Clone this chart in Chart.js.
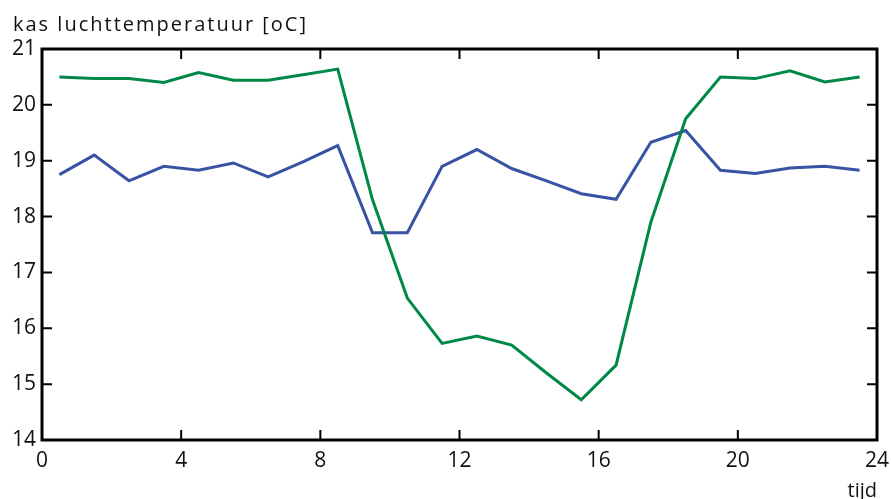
<!DOCTYPE html>
<html>
<head>
<meta charset="utf-8">
<script src="https://cdn.jsdelivr.net/npm/chart.js@4/dist/chart.umd.min.js"></script>
<style>
  html, body { margin: 0; padding: 0; background: #fff; }
  #wrap { width: 891px; height: 499px; position: relative; }
</style>
</head>
<body>
<div id="wrap"><canvas id="myChart" width="891" height="499"></canvas></div>
<script>
// data (hours at half-hour marks)
var uren = [0.5, 1.5, 2.5, 3.5, 4.5, 5.5, 6.5, 7.5, 8.5, 9.5, 10.5, 11.5,
            12.5, 13.5, 14.5, 15.5, 16.5, 17.5, 18.5, 19.5, 20.5, 21.5, 22.5, 23.5];
var tempBlauw = [18.75, 19.1, 18.64, 18.9, 18.83, 18.96, 18.71, 18.98, 19.27, 17.71, 17.71, 18.9,
                 19.2, 18.86, 18.64, 18.41, 18.31, 19.33, 19.54, 18.83, 18.77, 18.87, 18.9, 18.83];
var tempGroen = [20.5, 20.47, 20.47, 20.4, 20.58, 20.44, 20.44, 20.54, 20.64, 18.3, 16.54, 15.73,
                 15.86, 15.7, 15.2, 14.72, 15.34, 17.9, 19.75, 20.5, 20.47, 20.61, 20.41, 20.5];
var xTicks = [0, 4, 8, 12, 16, 20, 24];
var yTicks = [14, 15, 16, 17, 18, 19, 20, 21];
var titel = 'kas luchttemperatuur [oC]';
var xTitel = 'tijd';

function punten(arr){
  return uren.map(function(u, i){ return {x: u, y: arr[i]}; });
}

var fontNaam = '"Open Sans", "DejaVu Sans", sans-serif';

// box, inward ticks and texts
var kader = {
  id: 'kader',
  afterDraw: function(chart){
    var ctx = chart.ctx;
    var a = chart.chartArea;
    var xs = chart.scales.x, ys = chart.scales.y;
    ctx.save();
    ctx.strokeStyle = '#000';
    ctx.lineWidth = 2;
    ctx.beginPath();
    xTicks.forEach(function(t){
      var px = xs.getPixelForValue(t);
      ctx.moveTo(px, a.bottom); ctx.lineTo(px, a.bottom - 10);
      ctx.moveTo(px, a.top); ctx.lineTo(px, a.top + 10);
    });
    yTicks.forEach(function(t){
      var py = ys.getPixelForValue(t);
      ctx.moveTo(a.left, py); ctx.lineTo(a.left + 10, py);
      ctx.moveTo(a.right, py); ctx.lineTo(a.right - 10, py);
    });
    ctx.stroke();
    ctx.lineWidth = 3;
    ctx.strokeRect(a.left, a.top, a.right - a.left, a.bottom - a.top);
    ctx.fillStyle = '#111';
    ctx.font = '20px ' + fontNaam;
    ctx.textAlign = 'left';
    ctx.textBaseline = 'alphabetic';
    ctx.letterSpacing = '2px';
    ctx.fillText(titel, 13, 31);
    ctx.letterSpacing = '0px';
    ctx.textAlign = 'right';
    ctx.fillText(xTitel, a.right, 497);
    ctx.restore();
  }
};

var ctx = document.getElementById('myChart');
var chart = new Chart(ctx, {
  type: 'line',
  data: {
    datasets: [
      {
        label: 'groen',
        data: punten(tempGroen),
        borderColor: 'rgb(0, 137, 70)',
        borderWidth: 3,
        pointRadius: 0,
        tension: 0
      },
      {
        label: 'blauw',
        data: punten(tempBlauw),
        borderColor: 'rgb(57, 83, 164)',
        borderWidth: 3,
        pointRadius: 0,
        tension: 0
      }
    ]
  },
  options: {
    responsive: false,
    animation: false,
    events: [],
    layout: { padding: { top: 49, right: 14, left: 0, bottom: 0 } },
    plugins: { legend: { display: false }, tooltip: { enabled: false } },
    scales: {
      x: {
        type: 'linear',
        min: 0, max: 24,
        afterBuildTicks: function(s){ s.ticks = xTicks.map(function(v){ return {value: v}; }); },
        afterFit: function(s){ s.height = 59; s.paddingLeft = 0; s.paddingRight = 0; },
        grid: { display: false, drawTicks: false },
        border: { display: false },
        ticks: { color: '#111', font: { family: fontNaam, size: 21 }, padding: 8, maxRotation: 0 }
      },
      y: {
        min: 14, max: 21,
        afterBuildTicks: function(s){ s.ticks = yTicks.map(function(v){ return {value: v}; }); },
        afterFit: function(s){ s.width = 42; s.paddingTop = 0; s.paddingBottom = 0; },
        grid: { display: false, drawTicks: false },
        border: { display: false },
        ticks: { color: '#111', font: { family: fontNaam, size: 21 }, padding: 6 }
      }
    }
  },
  plugins: [kader]
});
</script>
</body>
</html>
